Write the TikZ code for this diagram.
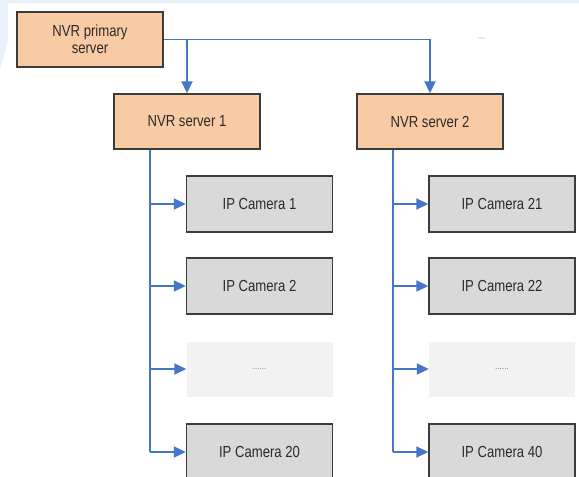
\documentclass[tikz,border=0pt]{standalone}
\usepackage{fontspec}
\setmainfont{Liberation Sans}[FakeStretch=0.82]
\usetikzlibrary{arrows.meta}
\definecolor{peach}{HTML}{F9CBA4}
\definecolor{camgray}{HTML}{D9D9D9}
\definecolor{dotgray}{HTML}{F2F2F2}
\definecolor{edgegray}{HTML}{3C3C3C}
\definecolor{txtgray}{HTML}{2A2A2A}
\definecolor{linkblue}{HTML}{4676C8}
\definecolor{bgblue}{HTML}{E9F2FB}
\tikzset{
  srvbox/.style={rectangle, minimum width=146pt, minimum height=55pt, fill=peach, draw=edgegray, line width=1.4pt, text=txtgray, align=center, font=\fontsize{16}{17}\selectfont, inner sep=0pt},
  cambox/.style={srvbox, fill=camgray, minimum height=56pt},
  dotbox/.style={rectangle, minimum width=146pt, minimum height=55pt, fill=dotgray, draw=none, text=gray, font=\fontsize{10}{11}\selectfont, inner sep=0pt},
  conn/.style={draw=linkblue, line width=1.8pt},
  arr/.style={conn, -{Triangle[length=12pt,width=11pt]}}
}
\begin{document}
\begin{tikzpicture}[x=1pt,y=-1pt]
\clip (0,0) rectangle (579,477);
\fill[white] (0,0) rectangle (579,477);
\fill[bgblue] (0,0) -- (579,0) -- (579,3) -- (8,3) -- (8,40) -- (0,70) -- cycle;
\draw[bgblue!70!linkblue!40, line width=1.2pt] (478,38) -- (485,38);

\node[srvbox] (prim) at (90,39.5) {NVR primary\\server};
\node[srvbox] (s1) at (187,121.5) {NVR server 1};
\node[srvbox] (s2) at (430,121.5) {NVR server 2};

\node[cambox] (c1)  at (259.5,204) {IP Camera 1};
\node[cambox] (c2)  at (259.5,286) {IP Camera 2};
\node[dotbox] (cd)  at (259.5,369) {......};
\node[cambox] (c20) at (259.5,452) {IP Camera 20};

\node[cambox] (c21) at (502,204) {IP Camera 21};
\node[cambox] (c22) at (502,286) {IP Camera 22};
\node[dotbox] (ce)  at (502,369) {......};
\node[cambox] (c40) at (502,452) {IP Camera 40};

\coordinate (b1) at (150,0);
\coordinate (b2) at (393,0);

\draw[arr] (prim.east) -| (s2.north);
\draw[arr] (prim.east -| s1.north) -- (s1.north);

\draw[conn] (s1.south -| b1) -- (c20.west -| b1);
\draw[conn] (s2.south -| b2) -- (c40.west -| b2);

\foreach \c in {c1,c2,cd,c20} \draw[arr] (\c.west -| b1) -- (\c.west);
\foreach \c in {c21,c22,ce,c40} \draw[arr] (\c.west -| b2) -- (\c.west);
\end{tikzpicture}
\end{document}
